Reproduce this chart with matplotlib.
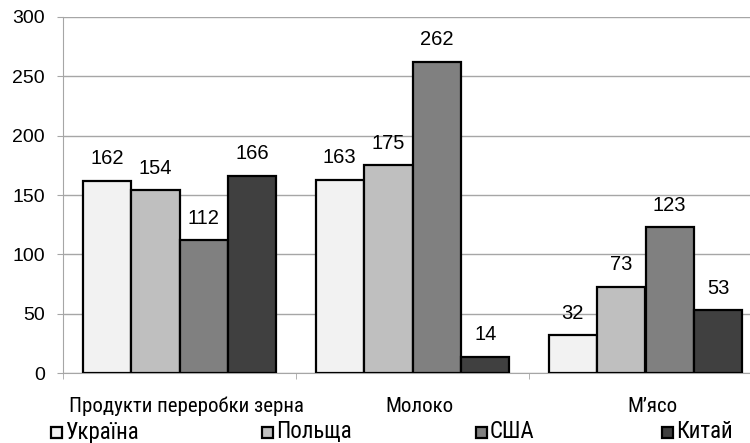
import numpy as np
import matplotlib.pyplot as plt
from matplotlib.patches import Rectangle

categories = ["Продукти переробки зерна", "Молоко", "М’ясо"]
countries = ["Україна", "Польща", "США", "Китай"]
ukraine = [162, 163, 32]
poland = [154, 175, 73]
usa = [112, 262, 123]
china = [166, 14, 53]
colors = ["#f2f2f2", "#bfbfbf", "#808080", "#404040"]

series = [ukraine, poland, usa, china]
narrow = ["Roboto Condensed", "Fira Sans Condensed", "Liberation Sans", "DejaVu Sans"]
plain = ["Liberation Sans", "DejaVu Sans"]

W, H = 750, 443
fig = plt.figure(figsize=(W / 100, H / 100), dpi=100)
# plot area runs slightly past the right edge, like the original crop
ax = fig.add_axes([63 / W, 69.7 / H, 699 / W, 356.6 / H])

x = np.arange(len(categories))
w = 0.208
for i, vals in enumerate(series):
    bars = ax.bar(x + (i - 1.5) * w, vals, w, color=colors[i], edgecolor="black",
                  linewidth=1.6, zorder=3)
    ax.bar_label(bars, labels=[str(v) for v in vals], padding=9, fontsize=14.5,
                 family=plain)

ax.set_xlim(-0.5, 2.5)
ax.set_ylim(0, 300)
ax.set_yticks(range(0, 301, 50))
ax.yaxis.grid(True, color="#a6a6a6", linewidth=1)
ax.set_axisbelow(True)

for s in ["top", "right"]:
    ax.spines[s].set_visible(False)
ax.spines["left"].set_color("#a6a6a6")
ax.spines["bottom"].set_color("#a6a6a6")

ax.tick_params(axis="y", length=4.5, color="#a6a6a6", pad=8.5, labelsize=14)
for t in ax.get_yticklabels():
    t.set_family(plain)

ax.set_xticks(x + 0.03)
ax.set_xticklabels(categories, family=narrow, fontsize=15)
ax.tick_params(axis="x", which="major", length=0, pad=17)
ax.set_xticks([-0.5, 0.5, 1.5, 2.5], minor=True)
ax.tick_params(axis="x", which="minor", length=4, color="#a6a6a6")

# legend along the bottom
leg_x = [51, 262, 476, 662]
for i, name in enumerate(countries):
    fig.patches.append(Rectangle((leg_x[i] / W, (H - 438) / H), 11 / W, 11 / H,
                                 transform=fig.transFigure, facecolor=colors[i],
                                 edgecolor="black", linewidth=1.6))
    fig.text((leg_x[i] + 14) / W, (H - 432) / H, name, family=narrow,
             fontsize=16.5, va="center", ha="left")

fig.savefig("out.png", dpi=100)
